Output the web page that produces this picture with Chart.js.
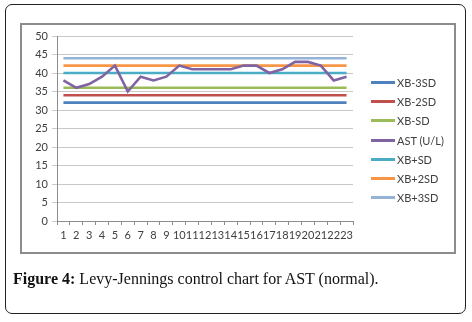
<!DOCTYPE html>
<html><head><meta charset="utf-8">
<script src="https://cdn.jsdelivr.net/npm/chart.js@4/dist/chart.umd.min.js"></script>
<style>
html,body{margin:0;padding:0;background:#fff;}
#wrap{position:relative;width:472px;height:322px;overflow:hidden;}
#outer{position:absolute;left:5px;top:4px;width:461px;height:310px;border:1.5px solid #222;border-radius:7px;box-sizing:border-box;}
#inner{position:absolute;left:20px;top:23px;width:436px;height:231px;border:2px solid #8c8c8c;box-sizing:border-box;}
canvas{position:absolute;left:0;top:0;}
#legend{position:absolute;left:371px;top:73px;font-family:Lato,"Open Sans",sans-serif;font-size:11px;color:#404040;}
.li{height:19.2px;display:flex;align-items:center;}
.sw{width:24px;height:3px;margin-right:2px;}
#cap{position:absolute;left:13px;top:270px;font-family:"Liberation Serif","DejaVu Serif",serif;font-size:16px;color:#111;white-space:nowrap;}
</style></head>
<body><div id="wrap">
<div id="outer"></div>
<div id="inner"></div>
<canvas id="c" width="472" height="322"></canvas>
<div id="legend"></div>
<div id="cap"><b>Figure 4:</b> Levy-Jennings control chart for AST (normal).</div>
</div>
<script>
const categories = ["1","2","3","4","5","6","7","8","9","10","11","12","13","14","15","16","17","18","19","20","21","22","23"];
const xbMinus3SD = [32,32,32,32,32,32,32,32,32,32,32,32,32,32,32,32,32,32,32,32,32,32,32];
const xbMinus2SD = [34,34,34,34,34,34,34,34,34,34,34,34,34,34,34,34,34,34,34,34,34,34,34];
const xbMinusSD  = [36,36,36,36,36,36,36,36,36,36,36,36,36,36,36,36,36,36,36,36,36,36,36];
const astValues  = [38,36,37,39,42,35,39,38,39,42,41,41,41,41,42,42,40,41,43,43,42,38,39];
const xbPlusSD   = [40,40,40,40,40,40,40,40,40,40,40,40,40,40,40,40,40,40,40,40,40,40,40];
const xbPlus2SD  = [42,42,42,42,42,42,42,42,42,42,42,42,42,42,42,42,42,42,42,42,42,42,42];
const xbPlus3SD  = [44,44,44,44,44,44,44,44,44,44,44,44,44,44,44,44,44,44,44,44,44,44,44];
const seriesNames = ["XB-3SD","XB-2SD","XB-SD","AST (U/L)","XB+SD","XB+2SD","XB+3SD"];
const yTicks = [0,5,10,15,20,25,30,35,40,45,50];

const colors = ["#4F81BD","#C0504D","#9BBB59","#8064A2","#4BACC6","#F79646","#95B3D7"];
const seriesData = [xbMinus3SD,xbMinus2SD,xbMinusSD,astValues,xbPlusSD,xbPlus2SD,xbPlus3SD];
// draw order: constant lines beneath AST
const order = [1,1,1,0,1,1,1];
const datasets = seriesNames.map((n,i)=>({
  label:n, data:seriesData[i], borderColor:colors[i], backgroundColor:colors[i],
  borderWidth:2.6, pointRadius:0, tension:0, fill:false, order:order[i]
}));

const chart = new Chart(document.getElementById('c'),{
  type:'line',
  data:{labels:categories,datasets},
  options:{
    responsive:false, animation:false,
    layout:{padding:{left:20,top:36,right:119,bottom:69}},
    plugins:{legend:{display:false},tooltip:{enabled:false}},
    scales:{
      x:{
        offset:true,
        afterFit:s=>{s.height=32;},
        grid:{offset:true,drawOnChartArea:false,drawTicks:true,tickLength:4,color:'#8c8c8c'},
        border:{color:'#8c8c8c'},
        ticks:{autoSkip:false,maxRotation:0,minRotation:0,padding:4,color:'#404040',font:{family:'Lato',size:11}}
      },
      y:{
        min:0,max:50,
        afterFit:s=>{s.width=37;},
        afterBuildTicks:s=>{s.ticks=yTicks.map(v=>({value:v}));},
        grid:{color:'#c8c8c8',tickLength:5,drawTicks:true},
        border:{color:'#8c8c8c'},
        ticks:{padding:4,color:'#404040',font:{family:'Lato',size:11}}
      }
    }
  }
});

const lg = document.getElementById('legend');
chart.data.datasets.forEach(d=>{
  const row=document.createElement('div');row.className='li';
  const sw=document.createElement('div');sw.className='sw';sw.style.background=d.borderColor;
  const t=document.createElement('span');t.textContent=d.label;
  row.appendChild(sw);row.appendChild(t);lg.appendChild(row);
});
</script>
</body></html>
